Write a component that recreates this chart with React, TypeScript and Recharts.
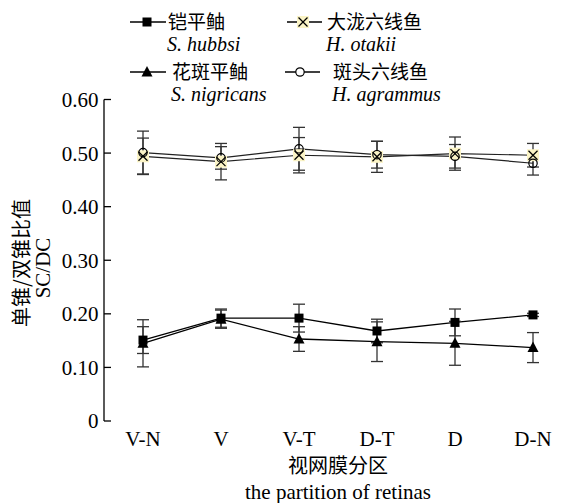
import React from 'react';
import { LineChart, Line, XAxis, YAxis, ErrorBar, Label } from 'recharts';

const categories = ['V-N', 'V', 'V-T', 'D-T', 'D', 'D-N'];
const hubbsi = [0.151, 0.192, 0.192, 0.168, 0.184, 0.198];
const hubbsiErr = [0.025, 0.017, 0.026, 0.022, 0.025, 0.003];
const nigricans = [0.145, 0.19, 0.153, 0.148, 0.145, 0.137];
const nigricansErr = [0.044, 0.017, 0.023, 0.037, 0.041, 0.028];
const otakii = [0.494, 0.484, 0.496, 0.493, 0.499, 0.496];
const otakiiErr = [0.034, 0.034, 0.033, 0.029, 0.031, 0.022];
const agrammus = [0.501, 0.491, 0.508, 0.497, 0.494, 0.481];
const agrammusErr = [0.04, 0.021, 0.04, 0.025, 0.022, 0.022];
const yTicks = [0, 0.1, 0.2, 0.3, 0.4, 0.5, 0.6];

const seriesNames = ['铠平鲉', '大泷六线鱼', '花斑平鲉', '斑头六线鱼'];
const seriesLatin = ['S. hubbsi', 'H. otakii', 'S. nigricans', 'H. agrammus'];

const data = categories.map((c, i) => ({
  cat: c,
  hubbsi: hubbsi[i],
  hubbsiErr: hubbsiErr[i],
  nigricans: nigricans[i],
  nigricansErr: nigricansErr[i],
  otakii: otakii[i],
  otakiiErr: otakiiErr[i],
  agrammus: agrammus[i],
  agrammusErr: agrammusErr[i],
}));
const boundaries = categories.slice(1).map((_, i) => i + 1);

const FONT = "'Liberation Serif', 'Noto Sans CJK SC', serif";
const CJK = "'Noto Sans CJK SC', sans-serif";

const SquareMark = ({ cx, cy }: any) => (
  <rect x={cx - 4.5} y={cy - 4.5} width={9} height={9} fill="#000" />
);
const TriangleMark = ({ cx, cy }: any) => (
  <polygon points={`${cx},${cy - 6} ${cx - 5.5},${cy + 4.5} ${cx + 5.5},${cy + 4.5}`} fill="#000" />
);
const CrossMark = ({ cx, cy }: any) => (
  <g>
    <rect x={cx - 6} y={cy - 6} width={12} height={12} fill="#fbf4c6" />
    <line x1={cx - 4.5} y1={cy - 4.5} x2={cx + 4.5} y2={cy + 4.5} stroke="#000" strokeWidth={1.3} />
    <line x1={cx - 4.5} y1={cy + 4.5} x2={cx + 4.5} y2={cy - 4.5} stroke="#000" strokeWidth={1.3} />
  </g>
);
const CircleMark = ({ cx, cy, fill }: any) => (
  <circle cx={cx} cy={cy} r={4.2} fill={fill || 'none'} stroke="#000" strokeWidth={1.2} />
);

const markers = [SquareMark, CrossMark, TriangleMark, CircleMark];

const dotFn = (Comp: any) => (p: any) => (
  <g key={`dot-${p.dataKey}-${p.index}`}>
    <Comp cx={p.cx} cy={p.cy} />
  </g>
);

const legendLayout = [
  { lx1: 130, lx2: 166, ly: 22, mx: 147, tx: 168, ty1: 29, ty2: 51 },
  { lx1: 287, lx2: 322, ly: 22, mx: 303, tx: 327, ty1: 29, ty2: 51 },
  { lx1: 130, lx2: 166, ly: 72, mx: 147, tx: 172, ty1: 79, ty2: 101 },
  { lx1: 285, lx2: 320, ly: 72, mx: 300, tx: 333, ty1: 79, ty2: 101 },
];

const LegendSvg = () => (
  <svg width={570} height={110} style={{ position: 'absolute', left: 0, top: 0 }}>
    {seriesNames.map((name, i) => {
      const L = legendLayout[i];
      const M = markers[i];
      return (
        <g key={name}>
          <line x1={L.lx1} y1={L.ly} x2={L.lx2} y2={L.ly} stroke="#000" strokeWidth={1.3} />
          <M cx={L.mx} cy={L.ly} fill="#fff" />
          <text x={L.tx} y={L.ty1} fontSize={19} fontFamily={CJK} fill="#000">{name}</text>
          <text x={L.tx - 1} y={L.ty2} fontSize={20} fontFamily={FONT} fontStyle="italic" fill="#000">{seriesLatin[i]}</text>
        </g>
      );
    })}
  </svg>
);

const XTitle = (props: any) => {
  const vb = props.viewBox || {};
  const cx = vb.x + vb.width / 2;
  return (
    <g>
      <text x={cx} y={vb.y + 52} textAnchor="middle" fontSize={20} fontFamily={CJK} fill="#000">视网膜分区</text>
      <text x={cx} y={vb.y + 78} textAnchor="middle" fontSize={21} fontFamily={FONT} fill="#000">the partition of retinas</text>
    </g>
  );
};

const YTitle = () => {
  return (
    <g>
      <text x={29} y={263} transform="rotate(-90 29 263)" textAnchor="middle" fontSize={20} fontFamily={CJK} fill="#000">单锥/双锥比值</text>
      <text x={50} y={268} transform="rotate(-90 50 268)" textAnchor="middle" fontSize={21} fontFamily={FONT} fill="#000">SC/DC</text>
    </g>
  );
};

export default function App() {
  return (
    <div style={{ position: 'absolute', left: 0, top: 0, width: 570, height: 503, overflow: 'hidden', background: '#fff' }}>
      <LineChart width={580} height={503} data={data} margin={{ top: 99.5, right: 8, left: 0, bottom: 0 }}>
        <XAxis
          xAxisId="ticks"
          type="number"
          domain={[0, categories.length]}
          ticks={boundaries}
          allowDataOverflow
          tick={false}
          tickSize={-7}
          height={0}
          stroke="#000"
          strokeWidth={1.3}
        />
        <XAxis
          xAxisId="cat"
          dataKey="cat"
          scale="band"
          axisLine={false}
          tickLine={false}
          tickSize={0}
          tickMargin={10}
          height={82}
          interval={0}
          tick={{ fill: '#000', fontSize: 21, fontFamily: FONT }}
        >
          <Label content={XTitle} />
        </XAxis>
        <YAxis
          domain={[0, 0.6]}
          ticks={yTicks}
          interval={0}
          tickFormatter={(v: number) => (v === 0 ? '0' : v.toFixed(2))}
          tickSize={-7}
          tickMargin={12.5}
          width={104}
          stroke="#000"
          strokeWidth={1.3}
          tick={{ fill: '#000', fontSize: 21, fontFamily: FONT }}
        >
          <Label content={YTitle} />
        </YAxis>
        <Line xAxisId="cat" dataKey="hubbsi" stroke="#000" strokeWidth={1.3} isAnimationActive={false} dot={dotFn(SquareMark)} activeDot={false}>
          <ErrorBar dataKey="hubbsiErr" width={6} stroke="#333" strokeWidth={1.3} />
        </Line>
        <Line xAxisId="cat" dataKey="nigricans" stroke="#000" strokeWidth={1.3} isAnimationActive={false} dot={dotFn(TriangleMark)} activeDot={false}>
          <ErrorBar dataKey="nigricansErr" width={6} stroke="#333" strokeWidth={1.3} />
        </Line>
        <Line xAxisId="cat" dataKey="otakii" stroke="#222" strokeWidth={1.2} isAnimationActive={false} dot={dotFn(CrossMark)} activeDot={false}>
          <ErrorBar dataKey="otakiiErr" width={6} stroke="#333" strokeWidth={1.3} />
        </Line>
        <Line xAxisId="cat" dataKey="agrammus" stroke="#222" strokeWidth={1.2} isAnimationActive={false} dot={dotFn(CircleMark)} activeDot={false}>
          <ErrorBar dataKey="agrammusErr" width={6} stroke="#333" strokeWidth={1.3} />
        </Line>
      </LineChart>
      <LegendSvg />
    </div>
  );
}
